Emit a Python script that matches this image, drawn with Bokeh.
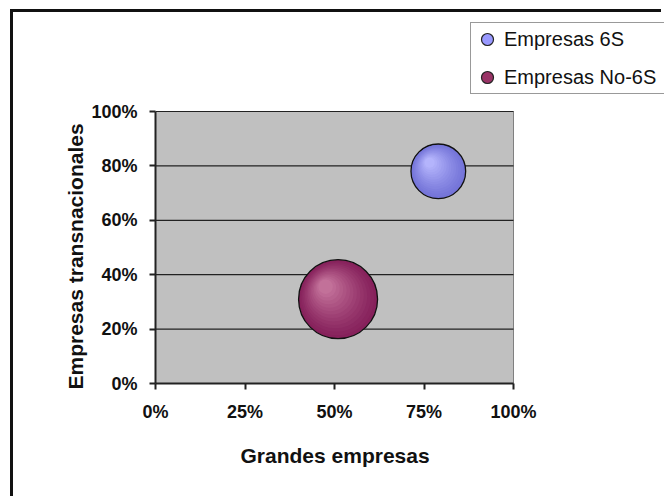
import numpy as np
from bokeh.plotting import figure
from bokeh.models import (Legend, LegendItem, NumeralTickFormatter,
                          FixedTicker, Range1d, Title)
from bokeh.embed import file_html
from bokeh.resources import INLINE

# ---------------- data ----------------
series = ["Empresas 6S", "Empresas No-6S"]
grandes_empresas = [0.79, 0.51]          # x values
empresas_transnacionales = [0.78, 0.31]  # y values
bubble_size = [35, 73]                   # relative bubble sizes (area)
x_ticks = [0, 0.25, 0.5, 0.75, 1.0]
y_ticks = [0, 0.2, 0.4, 0.6, 0.8, 1.0]
x_title = "Grandes empresas"
y_title = "Empresas transnacionales"

# ---------------- style ----------------
edge_colors = ["#7474d8", "#86215b"]
highlight_colors = ["#babaff", "#c8789f"]
legend_colors = ["#9999ff", "#993366"]
FONT = "Liberation Sans"
AREA_W, AREA_H = 358, 272          # pixel size of the 0..1 plot area
CANVAS_W, CANVAS_H = 651, 487
BORDER_L, BORDER_T, BORDER_B = 142, 8, 116
XTITLE_OFFSET = 85                 # px from plot-area left to x title start
YTITLE_OFFSET = -6                 # px from plot-area bottom to y title start
MAX_D = 79
N_LAYERS = 14


def lerp_hex(a, b, t):
    a = [int(a[i:i + 2], 16) for i in (1, 3, 5)]
    b = [int(b[i:i + 2], 16) for i in (1, 3, 5)]
    c = [round(a[j] + (b[j] - a[j]) * t) for j in range(3)]
    return "#%02x%02x%02x" % tuple(c)


frame_w = CANVAS_W - BORDER_L
frame_h = CANVAS_H - BORDER_T - BORDER_B
x_end = frame_w / AREA_W
y_end = frame_h / AREA_H

p = figure(width=CANVAS_W, height=CANVAS_H,
           x_range=Range1d(0, x_end), y_range=Range1d(0, y_end),
           output_backend="svg", toolbar_location=None,
           min_border_left=BORDER_L, min_border_right=0,
           min_border_top=BORDER_T, min_border_bottom=BORDER_B)
p.styles = {"border-left": "3px solid #111", "border-top": "3px solid #111",
            "margin-left": "10px", "margin-top": "9px"}

p.background_fill_color = "white"
p.border_fill_color = "white"
p.outline_line_color = None
p.xgrid.visible = False
p.ygrid.visible = False

# gray plot area
p.quad(left=[x_ticks[0]], right=[x_ticks[-1]], bottom=[y_ticks[0]], top=[y_ticks[-1]],
       fill_color="#c0c0c0", line_color="#808080", line_width=1)

# horizontal grid lines
p.segment(x0=[x_ticks[0]] * len(y_ticks), x1=[x_ticks[-1]] * len(y_ticks),
          y0=y_ticks, y1=y_ticks, line_color="#222", line_width=1.2)

# axes
for ax in (p.xaxis[0], p.yaxis[0]):
    ax.formatter = NumeralTickFormatter(format="0%")
    ax.minor_tick_line_color = None
    ax.major_tick_in = 0
    ax.major_tick_out = 6
    ax.major_tick_line_color = "#222"
    ax.major_tick_line_width = 2
    ax.axis_line_color = "#222"
    ax.axis_line_width = 2
    ax.major_label_text_font = FONT
    ax.major_label_text_font_size = "18px"
    ax.major_label_text_font_style = "bold"
    ax.major_label_text_color = "#111"

p.xaxis.ticker = FixedTicker(ticks=x_ticks)
p.yaxis.ticker = FixedTicker(ticks=y_ticks)
p.xaxis.bounds = (x_ticks[0], x_ticks[-1])
p.yaxis.bounds = (y_ticks[0], y_ticks[-1])
p.xaxis.major_label_standoff = 12
p.yaxis.major_label_standoff = 12

# axis titles, centred on the 0..1 plot area
xt = Title(text=x_title, align="left", offset=XTITLE_OFFSET,
           standoff=34, text_font=FONT, text_font_size="21px",
           text_font_style="bold", text_color="#111")
p.add_layout(xt, "below")
yt = Title(text=y_title, align="left", offset=YTITLE_OFFSET,
           standoff=4, text_font=FONT, text_font_size="21px",
           text_font_style="bold", text_color="#111")
p.add_layout(yt, "left")

# bubbles drawn as layered circles to imitate the shaded sphere
max_size = max(bubble_size)
diam = [MAX_D * np.sqrt(s / max_size) for s in bubble_size]
for k in range(N_LAYERS):
    t = k / N_LAYERS
    frac = 1 - 0.88 * t
    shift = 0.34 * t
    xs = [gx - shift * (d / 2) / AREA_W for gx, d in zip(grandes_empresas, diam)]
    ys = [gy + shift * (d / 2) / AREA_H for gy, d in zip(empresas_transnacionales, diam)]
    sz = [d * frac for d in diam]
    cols = [lerp_hex(e, h, t ** 1.2) for e, h in zip(edge_colors, highlight_colors)]
    p.scatter(x=xs, y=ys, size=sz, fill_color=cols,
              line_color="#111" if k == 0 else None, line_width=1.3)

# legend (markers only used for the legend)
items = []
for name, col in zip(series, legend_colors):
    r = p.scatter(x=[np.nan], y=[np.nan], size=12, fill_color=col,
                  line_color="#222", line_width=1.2)
    items.append(LegendItem(label=name, renderers=[r]))

legend = Legend(items=items, location=(315, 289),
                glyph_width=30, glyph_height=30, spacing=8, padding=1,
                label_standoff=2, margin=0, label_width=180,
                border_line_color="#333", border_line_width=1.8,
                background_fill_color="white", background_fill_alpha=1,
                label_text_font=FONT, label_text_font_size="20px",
                label_text_color="#111")
p.add_layout(legend, "center")

open("out.html", "w").write(file_html(p, INLINE))
